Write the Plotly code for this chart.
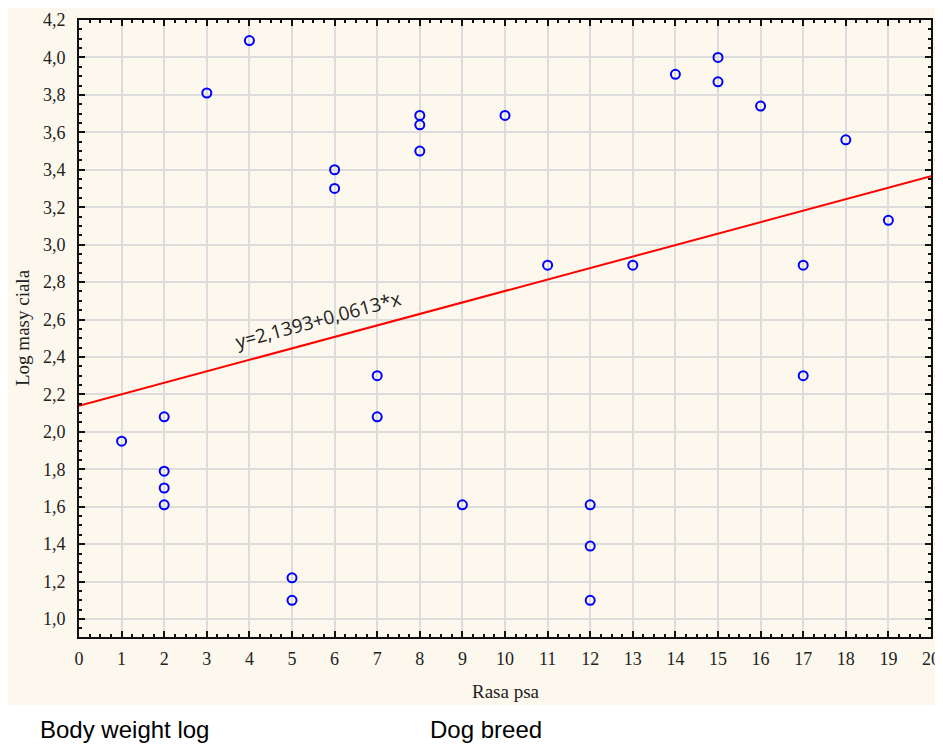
import plotly.graph_objects as go

breed = [1, 2, 2, 2, 2, 3, 4, 5, 5, 6, 6, 7, 7, 8, 8, 8, 9, 10, 11,
         12, 12, 12, 13, 14, 15, 15, 16, 17, 17, 18, 19]
log_mass = [1.95, 2.08, 1.79, 1.70, 1.61, 3.81, 4.09, 1.22, 1.10, 3.40, 3.30,
            2.30, 2.08, 3.69, 3.64, 3.50, 1.61, 3.69, 2.89,
            1.61, 1.39, 1.10, 2.89, 3.91, 4.00, 3.87, 3.74, 2.89, 2.30, 3.56, 3.13]

intercept = 2.1393
slope = 0.0613
fit_x = [0, 20]
fit_y = [intercept + slope * v for v in fit_x]

x_ticks = list(range(0, 21))
y_ticks = [1.0, 1.2, 1.4, 1.6, 1.8, 2.0, 2.2, 2.4, 2.6, 2.8, 3.0, 3.2, 3.4, 3.6, 3.8, 4.0, 4.2]

serif = "Liberation Serif, Times New Roman, serif"

# page offset (default HTML body margin)
OFF = 8
L, R, T, B = 79 - OFF, 931 - OFF, 20 - OFF, 637 - OFF
W, H = 943 - OFF, 746 - OFF
pw, ph = R - L, B - T


def px(xp):
    return (xp - OFF - L) / pw


def py(yp):
    return (B - (yp - OFF)) / ph


fig = go.Figure()
fig.add_trace(go.Scatter(x=fit_x, y=fit_y, mode="lines",
                         line=dict(color="#ff0000", width=2), showlegend=False,
                         hoverinfo="skip"))
fig.add_trace(go.Scatter(x=breed, y=log_mass, mode="markers",
                         marker=dict(symbol="circle-open", size=9, color="#0000ff",
                                     line=dict(width=2, color="#0000ff")),
                         showlegend=False))

axis_common = dict(
    showgrid=True, gridcolor="#dcdcdc", gridwidth=2,
    showline=True, linecolor="#111111", linewidth=2, mirror="ticks",
    ticks="inside", ticklen=6, tickwidth=2, tickcolor="#111111",
    zeroline=False, automargin=False,
    tickfont=dict(family=serif, size=18, color="#222222"),
)

fig.update_xaxes(range=[0, 20], tickvals=x_ticks, ticklabelstandoff=4,
                 minor=dict(dtick=0.25, tick0=0, ticks="inside", ticklen=3,
                            tickwidth=1.5, tickcolor="#111111", showgrid=False),
                 **axis_common)
fig.update_yaxes(range=[0.904, 4.2], tickvals=y_ticks, tickformat=".1f", ticklabelstandoff=8,
                 minor=dict(dtick=0.05, tick0=0, ticks="inside", ticklen=3,
                            tickwidth=1.5, tickcolor="#111111", showgrid=False),
                 **axis_common)

# axis titles as annotations for precise placement
fig.add_annotation(x=px(506), y=py(692), xref="paper", yref="paper", text="Rasa psa",
                   showarrow=False, xanchor="center", yanchor="middle",
                   font=dict(family=serif, size=19, color="#222222"))
fig.add_annotation(x=px(22), y=py(328), xref="paper", yref="paper", text="Log masy ciala",
                   showarrow=False, xanchor="center", yanchor="middle", textangle=-90,
                   font=dict(family=serif, size=19, color="#222222"))

fig.add_annotation(x=5.61, y=2.60, xref="x", yref="y",
                   text="y=2,1393+0,0613*x", showarrow=False, textangle=-15,
                   font=dict(family="Open Sans, Noto Sans, sans-serif", size=19, color="#222222"))

fig.add_shape(type="rect", xref="paper", yref="paper", layer="below",
              x0=px(8), x1=px(943), y0=py(705), y1=py(8),
              fillcolor="#fdf8ed", line=dict(width=0))

fig.add_annotation(x=px(38), y=py(714), xref="paper", yref="paper", text="Body weight log",
                   showarrow=False, xanchor="left", yanchor="top",
                   font=dict(family="Liberation Sans, Arial, sans-serif", size=24, color="#000000"))
fig.add_annotation(x=px(428), y=py(714), xref="paper", yref="paper", text="Dog breed",
                   showarrow=False, xanchor="left", yanchor="top",
                   font=dict(family="Liberation Sans, Arial, sans-serif", size=24, color="#000000"))

fig.update_layout(
    width=W, height=H,
    margin=dict(l=L, r=W - R, t=T, b=H - B, autoexpand=False),
    paper_bgcolor="#ffffff", plot_bgcolor="#ffffff",
    separators=", ",
)

fig.write_html("out.html")
